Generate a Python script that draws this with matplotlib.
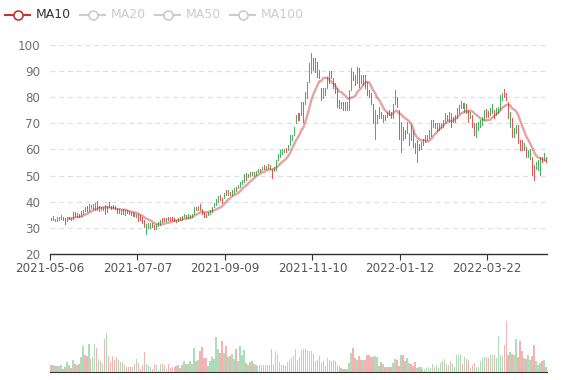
import numpy as np
import pandas as pd
import matplotlib
matplotlib.use("Agg")
import matplotlib.pyplot as plt
from matplotlib.lines import Line2D

# 日K数据 (开, 收, 低, 高)
opens = [
    33.6, 33.2, 33.3, 32.9, 33.4, 33.5, 34.0, 33.6, 32.9, 33.5,
    33.6, 33.5, 35.8, 34.2, 35.2, 34.7, 35.5, 37.6, 38.0, 36.6,
    38.7, 37.5, 37.2, 40.2, 36.6, 38.0, 36.8, 38.5, 36.3, 39.8,
    38.4, 38.8, 38.4, 37.6, 35.9, 35.5, 37.0, 35.0, 36.7, 36.4,
    36.1, 34.6, 35.7, 34.2, 35.1, 34.8, 34.2, 32.9, 28.0, 30.0,
    30.0, 31.6, 30.9, 29.6, 30.8, 31.1, 33.5, 33.5, 32.8, 33.9,
    33.9, 33.9, 33.5, 33.1, 32.7, 33.9, 33.3, 34.3, 34.8, 33.7,
    33.7, 34.3, 35.6, 38.0, 36.9, 38.9, 37.2, 36.0, 35.4, 35.0,
    35.6, 36.2, 38.2, 38.8, 40.1, 42.4, 41.5, 41.4, 44.3, 42.6,
    43.7, 42.6, 43.3, 45.6, 45.2, 45.8, 46.8, 47.7, 51.0, 49.7,
    50.0, 51.4, 50.0, 50.5, 51.3, 52.4, 52.2, 53.9, 52.6, 54.3,
    52.6, 52.6, 51.8, 52.2, 56.0, 57.3, 58.2, 59.0, 60.3, 59.9,
    61.8, 63.7, 65.6, 70.1, 73.7, 73.7, 73.3, 78.2, 77.7, 79.7,
    86.1, 89.2, 94.8, 94.5, 93.5, 90.3, 83.3, 79.7, 83.3, 83.5,
    89.9, 89.9, 87.1, 85.2, 83.3, 78.8, 75.8, 78.2, 78.2, 75.3,
    75.2, 82.9, 89.7, 88.4, 85.4, 91.0, 88.4, 84.8, 88.4, 85.8,
    82.7, 81.4, 77.5, 64.5, 70.1, 72.0, 74.4, 70.7, 73.1, 72.6,
    75.0, 74.4, 72.0, 77.7, 80.1, 75.0, 60.0, 68.6, 67.3, 66.3,
    61.8, 69.2, 67.3, 62.2, 58.0, 62.0, 60.4, 61.8, 63.0, 63.6,
    64.6, 66.0, 68.7, 70.0, 67.0, 67.8, 68.2, 68.8, 70.7, 73.1,
    70.7, 73.7, 70.7, 70.7, 72.0, 73.9, 75.8, 77.8, 74.6, 77.5,
    75.0, 72.0, 73.1, 69.9, 65.0, 67.5, 68.8, 69.4, 71.4, 75.3,
    74.7, 73.3, 73.9, 75.0, 73.3, 73.9, 75.2, 79.0, 82.8, 81.4,
    78.2, 68.8, 71.8, 65.0, 66.3, 69.2, 63.5, 63.5, 59.9, 60.9,
    57.3, 56.3, 57.1, 53.9, 52.8, 52.2, 51.0, 57.1, 56.0, 57.1,
]
closes = [
    33.1, 34.3, 32.8, 33.8, 34.2, 35.0, 33.2, 31.8, 33.9, 34.0,
    33.3, 35.8, 34.6, 35.6, 34.4, 36.1, 36.5, 36.4, 36.6, 38.9,
    37.8, 38.9, 39.5, 37.2, 38.3, 37.2, 37.6, 35.6, 38.0, 38.1,
    37.2, 37.7, 37.2, 35.9, 37.1, 36.7, 35.6, 36.7, 35.9, 35.3,
    34.9, 35.9, 34.5, 35.4, 32.6, 33.2, 32.0, 30.4, 31.2, 31.5,
    31.7, 30.5, 29.6, 31.2, 32.2, 32.9, 32.4, 32.7, 33.5, 33.1,
    33.1, 33.3, 32.7, 32.4, 33.5, 33.1, 34.4, 35.4, 33.7, 35.2,
    34.8, 35.4, 38.0, 36.9, 38.2, 37.1, 35.6, 34.1, 34.3, 36.0,
    36.7, 38.0, 39.5, 40.8, 42.0, 40.7, 39.7, 43.1, 42.6, 44.3,
    42.6, 44.3, 45.0, 44.2, 46.3, 47.5, 48.2, 50.7, 48.4, 50.7,
    51.1, 50.3, 51.4, 51.6, 52.4, 51.6, 53.3, 52.8, 53.7, 53.1,
    53.9, 49.5, 53.3, 55.8, 58.0, 59.7, 60.1, 60.1, 59.2, 61.6,
    65.4, 65.4, 68.6, 73.1, 71.4, 71.4, 78.2, 71.0, 82.0, 85.9,
    92.9, 95.5, 90.5, 90.0, 88.0, 87.3, 79.0, 83.3, 80.9, 87.8,
    85.4, 87.3, 83.5, 81.6, 76.5, 75.8, 78.2, 75.2, 75.3, 78.0,
    82.7, 91.0, 86.7, 84.8, 91.6, 84.1, 85.4, 88.4, 83.5, 80.9,
    80.3, 77.7, 70.1, 75.0, 73.1, 76.3, 72.0, 73.1, 71.4, 74.4,
    73.3, 72.0, 77.5, 82.7, 76.5, 65.0, 70.0, 63.8, 64.6, 70.5,
    66.1, 63.7, 61.1, 58.6, 63.5, 60.2, 62.8, 64.0, 65.0, 65.3,
    67.0, 71.0, 71.2, 68.2, 69.8, 70.0, 70.0, 71.2, 73.7, 71.4,
    74.4, 68.8, 72.4, 73.1, 75.6, 76.9, 78.6, 75.8, 77.8, 73.9,
    70.7, 74.4, 68.8, 65.6, 69.9, 70.5, 71.2, 72.4, 75.0, 72.6,
    72.6, 75.6, 77.3, 72.0, 75.6, 76.3, 80.7, 81.6, 80.3, 79.0,
    72.0, 74.4, 65.0, 68.0, 69.2, 62.4, 59.9, 59.9, 62.2, 57.3,
    59.7, 59.9, 50.8, 49.0, 55.2, 55.8, 57.1, 55.4, 58.6, 55.4,
]
lows = [
    32.9, 33.0, 32.6, 32.8, 33.2, 33.4, 33.0, 31.3, 32.8, 33.3,
    33.2, 33.3, 34.5, 34.1, 34.3, 34.6, 35.3, 36.3, 36.5, 36.5,
    37.7, 37.4, 37.0, 36.8, 36.5, 37.0, 36.7, 35.2, 36.2, 38.0,
    37.1, 37.6, 37.1, 35.8, 35.8, 35.4, 35.5, 34.9, 35.8, 35.2,
    34.8, 34.5, 34.4, 34.1, 32.5, 33.1, 31.9, 30.3, 27.8, 29.8,
    29.8, 30.4, 29.4, 29.4, 30.7, 31.0, 32.3, 32.6, 32.7, 33.0,
    33.0, 33.2, 32.6, 32.3, 32.6, 33.0, 33.2, 34.2, 33.6, 33.6,
    33.6, 34.2, 35.5, 36.8, 36.8, 37.0, 35.5, 34.0, 34.2, 34.9,
    35.5, 36.1, 38.1, 38.7, 40.0, 40.6, 39.6, 41.3, 42.5, 42.5,
    42.5, 42.5, 43.2, 44.1, 45.1, 45.7, 46.7, 47.6, 48.3, 49.6,
    49.9, 50.2, 49.9, 50.4, 51.2, 51.5, 52.1, 52.7, 52.5, 53.0,
    52.5, 49.2, 51.7, 52.1, 55.9, 57.2, 58.1, 58.9, 59.1, 59.8,
    61.7, 63.6, 65.5, 70.0, 71.3, 71.3, 73.2, 70.6, 77.6, 79.6,
    86.0, 89.1, 90.4, 89.8, 87.9, 87.2, 78.9, 79.6, 80.8, 83.4,
    85.3, 87.2, 83.4, 81.5, 76.4, 75.7, 75.7, 75.1, 75.1, 75.1,
    75.1, 82.8, 86.6, 84.7, 85.3, 84.0, 85.3, 84.7, 83.4, 80.8,
    80.2, 77.6, 70.0, 64.2, 70.0, 71.9, 71.9, 70.6, 71.3, 72.5,
    73.2, 71.9, 71.9, 77.6, 76.4, 64.2, 59.1, 63.6, 64.5, 66.2,
    61.7, 63.6, 61.0, 58.5, 55.3, 59.8, 60.3, 61.7, 62.9, 63.5,
    64.5, 65.0, 68.6, 68.1, 66.9, 67.4, 68.1, 68.7, 70.6, 71.3,
    70.6, 68.7, 70.6, 70.6, 71.9, 73.8, 75.7, 75.7, 74.5, 73.8,
    70.6, 71.9, 68.7, 65.5, 64.9, 67.4, 68.7, 69.3, 71.3, 72.5,
    72.5, 73.2, 73.8, 71.9, 73.2, 73.8, 75.1, 78.9, 80.2, 78.9,
    71.9, 68.7, 64.9, 64.9, 66.2, 62.3, 59.8, 59.8, 59.8, 57.2,
    57.2, 56.2, 50.2, 48.3, 52.7, 52.1, 50.2, 55.3, 55.9, 55.3,
]
highs = [
    33.8, 34.5, 33.5, 34.0, 34.3, 35.1, 34.1, 33.7, 34.0, 34.2,
    33.8, 35.9, 36.0, 35.8, 35.3, 36.3, 36.7, 37.8, 38.2, 39.0,
    38.9, 39.1, 39.6, 40.4, 38.5, 38.1, 37.8, 38.6, 38.2, 40.0,
    38.5, 38.9, 38.5, 37.7, 37.2, 36.8, 37.1, 36.8, 36.8, 36.5,
    36.2, 36.0, 35.8, 35.5, 35.2, 34.9, 34.3, 33.0, 31.3, 31.7,
    31.9, 31.7, 31.0, 31.3, 32.3, 33.0, 33.6, 33.6, 33.6, 34.0,
    34.0, 34.0, 33.6, 33.2, 33.6, 34.0, 34.5, 35.5, 34.9, 35.3,
    34.9, 35.5, 38.1, 38.1, 38.3, 39.0, 37.3, 36.1, 35.5, 36.1,
    36.8, 38.1, 39.6, 40.9, 42.1, 42.5, 41.6, 43.2, 44.4, 44.4,
    43.8, 44.4, 45.1, 45.7, 46.4, 47.6, 48.3, 50.8, 51.1, 50.8,
    51.2, 51.5, 51.5, 51.7, 52.5, 52.5, 53.4, 54.0, 53.8, 54.4,
    54.0, 52.7, 53.4, 55.9, 58.1, 59.8, 60.2, 60.2, 60.4, 61.7,
    65.5, 65.5, 68.7, 73.2, 73.8, 73.8, 78.3, 78.3, 82.1, 86.0,
    93.0, 96.8, 94.9, 94.9, 93.6, 90.4, 83.4, 83.4, 83.4, 87.9,
    90.0, 90.0, 87.2, 85.3, 83.4, 78.9, 78.3, 78.3, 78.3, 78.3,
    82.8, 91.1, 89.8, 88.5, 91.7, 91.1, 88.5, 88.5, 88.5, 85.9,
    82.8, 81.5, 77.6, 75.1, 73.2, 76.4, 74.5, 73.2, 73.2, 74.5,
    75.1, 74.5, 77.6, 82.8, 80.2, 75.1, 70.6, 68.7, 67.4, 70.6,
    66.2, 69.3, 67.4, 62.3, 63.6, 62.2, 63.0, 64.2, 65.5, 65.5,
    67.4, 71.3, 71.3, 70.1, 70.0, 70.1, 70.1, 71.3, 73.8, 73.2,
    74.5, 73.8, 72.5, 73.2, 75.7, 77.0, 78.7, 77.9, 77.9, 77.6,
    75.1, 74.5, 73.2, 70.0, 70.0, 70.6, 71.3, 72.5, 75.1, 75.4,
    74.8, 75.7, 77.4, 75.1, 75.7, 76.4, 80.8, 81.7, 83.0, 81.5,
    78.3, 74.5, 71.9, 68.1, 69.3, 69.3, 63.6, 63.6, 62.3, 61.0,
    59.8, 60.0, 57.2, 54.0, 55.3, 55.9, 57.2, 57.2, 58.7, 57.2,
]
volumes = [
    22, 22, 17, 17, 19, 22, 10, 15, 30, 22, 12,
    37, 25, 22, 24, 44, 77, 52, 47, 84, 40,
    44, 84, 72, 40, 32, 25, 100, 117, 47, 30,
    47, 37, 45, 37, 29, 29, 22, 14, 16, 16,
    16, 24, 39, 27, 10, 20, 60, 24, 20, 14,
    10, 24, 20, 7, 24, 24, 22, 9, 24, 12,
    15, 15, 19, 20, 12, 22, 32, 25, 24, 34,
    24, 72, 32, 35, 64, 74, 42, 42, 19, 32,
    44, 40, 104, 70, 57, 94, 57, 79, 45, 47,
    54, 40, 69, 34, 79, 50, 67, 27, 20, 29,
    32, 24, 22, 17, 22, 20, 20, 20, 20, 22,
    70, 24, 64, 54, 29, 22, 20, 17, 29, 32,
    42, 47, 70, 37, 45,
    66, 68, 70, 64, 64, 64, 55, 32, 37, 47,
    27, 32, 17, 42, 37, 34, 37, 32, 22, 17,
    12, 10, 10, 10, 27, 56, 72, 42, 37, 49,
    37, 35, 35, 52, 50, 45, 44, 49, 45, 17,
    30, 24, 15, 15, 15, 15, 27, 40, 37, 17,
    52, 52, 34, 42, 27, 25, 17, 29, 12, 14,
    14, 10, 10, 12, 14, 12, 25, 15, 20, 12,
    27, 32, 39, 25, 22, 34, 24, 14, 50, 50,
    54, 24, 44, 39, 35, 12, 20, 27, 14, 14,
    34, 42, 44, 44, 42, 50, 50, 50, 42, 109,
    52, 47, 80, 154, 52, 60, 54, 50, 100, 44,
    94, 62, 42, 40, 52, 37, 47, 82, 32, 22,
    27, 32, 35, 14,
]

tick_idx = [0, 44, 88, 132, 176, 220]
tick_dates = ["2021-05-06", "2021-07-07", "2021-09-09",
              "2021-11-10", "2022-01-12", "2022-03-22"]
legend_names = ["MA10", "MA20", "MA50", "MA100"]

up_color = "#47b262"
down_color = "#eb5454"
ma_color = "#c23531"

W, H = 577, 380
fig = plt.figure(figsize=(W / 100, H / 100), dpi=100)


def px_box(l, t, r, b):
    return [l / W, 1 - b / H, (r - l) / W, (b - t) / H]


ax = fig.add_axes(px_box(50, 45, 547, 254))
axv = fig.add_axes(px_box(50, 300, 547, 372))

o = np.array(opens)
c = np.array(closes)
x = np.arange(len(c))
colors = np.where(c >= o, up_color, down_color)

# K线: 1px 宽, 不抗锯齿
ax.vlines(x, lows, highs, colors=colors, linewidth=0.72,
          antialiased=False, zorder=2)
ax.vlines(x, np.minimum(o, c), np.maximum(o, c), colors=colors,
          linewidth=0.72, antialiased=False, zorder=3)

# MA10
ma10 = pd.Series(closes).rolling(10).mean()
ax.plot(x, ma10, color=ma_color, alpha=0.45, linewidth=1.7, zorder=4)

ax.set_xlim(-0.5, len(c) - 0.5)
ax.set_ylim(20, 100)
ax.set_yticks(range(20, 101, 10))
ax.grid(axis="y", color="#e0e0e0", linestyle=(0, (4, 3)), linewidth=0.9)
ax.set_axisbelow(True)
for s in ["top", "right", "left"]:
    ax.spines[s].set_visible(False)
ax.spines["bottom"].set_color("#333333")
ax.spines["bottom"].set_linewidth(1.0)
ax.set_xticks(np.array(tick_idx) - 0.5)
ax.set_xticklabels(tick_dates)
ax.tick_params(axis="y", length=0, labelsize=8.6, labelcolor="#6e7079", pad=7)
ax.tick_params(axis="x", length=4, color="#333333", labelsize=8.6,
               labelcolor="#555555", pad=2)

# 成交量
axv.bar(x, volumes, width=0.75, color=colors, alpha=0.45, linewidth=0)
axv.set_xlim(-0.5, len(c) - 0.5)
axv.set_ylim(0, 216)
for s in ["top", "right", "left"]:
    axv.spines[s].set_visible(False)
axv.spines["bottom"].set_color("#333333")
axv.set_xticks([])
axv.set_yticks([])

# 图例
for k, name in enumerate(legend_names):
    x0 = 5 + 75 * k
    y0 = 1 - 15 / H
    col = ma_color if k == 0 else "#cccccc"
    tcol = "#333333" if k == 0 else "#cccccc"
    fig.add_artist(Line2D([x0 / W, (x0 + 25) / W], [y0, y0], color=col,
                          linewidth=1.5, transform=fig.transFigure))
    fig.add_artist(Line2D([(x0 + 12.5) / W], [y0], marker="o", markersize=6.5,
                          markerfacecolor="white", markeredgecolor=col,
                          markeredgewidth=1.2, transform=fig.transFigure))
    fig.text((x0 + 31) / W, y0, name, color=tcol, fontsize=9,
             va="center", ha="left")

fig.savefig("out.png", dpi=100)
